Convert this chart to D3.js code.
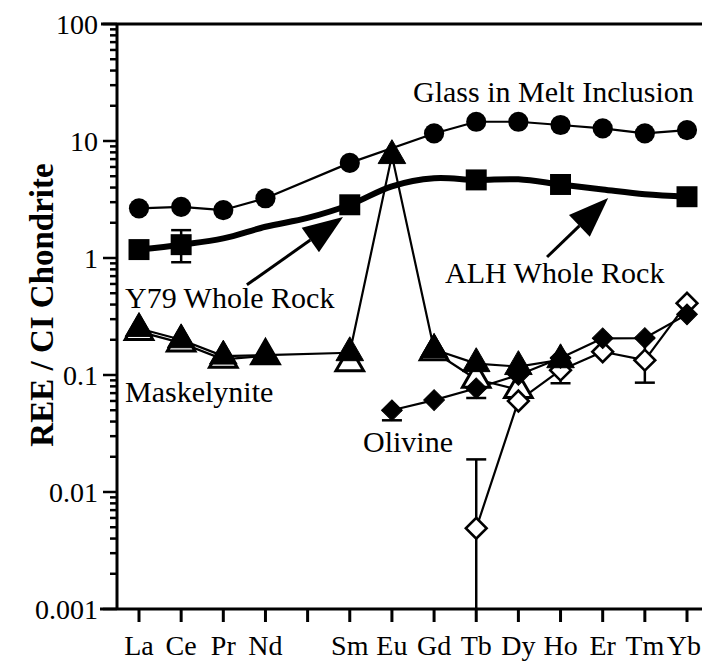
<!DOCTYPE html>
<html><head><meta charset="utf-8">
<script src="https://cdn.jsdelivr.net/npm/d3@7"></script>
<style>
html,body{margin:0;padding:0;background:#fff;}
svg{display:block;}
svg text{font-family:"Liberation Serif","Times New Roman",Times,serif;}
</style>
</head><body>
<svg id="chart" width="702" height="661"></svg>
<script>
// Rare earth elements in atomic order (Pm has a tick but no label)
const elements   = ["La","Ce","Pr","Nd","Pm","Sm","Eu","Gd","Tb","Dy","Ho","Er","Tm","Yb"];
const tickLabels = ["La","Ce","Pr","Nd","","Sm","Eu","Gd","Tb","Dy","Ho","Er","Tm","Yb"];
const yTickValues = [0.001, 0.01, 0.1, 1, 10, 100];
const yTickLabels = ["0.001", "0.01", "0.1", "1", "10", "100"];

// Glass in melt inclusion (filled circles)
const glassInclusion = [2.66, 2.74, 2.57, 3.24, null, 6.5, null, 11.6, 14.6, 14.6, 13.7, 12.8, 11.6, 12.4];

// Whole-rock pattern (thick smooth curve) and its measured points
const wholeRockCurve = [1.18, 1.3, 1.47, 1.85, 2.2, 2.85, 4.1, 4.8, 4.65, 4.7, 4.25, 3.85, 3.5, 3.34];
const y79WholeRock   = [1.18, 1.3, null, null, null, 2.85, null, null, null, null, null, null, null, null];
const y79ErrLow      = [null, 0.92, null, null, null, null, null, null, null, null, null, null, null, null];
const y79ErrHigh     = [null, 1.73, null, null, null, null, null, null, null, null, null, null, null, null];
const alhWholeRock   = [null, null, null, null, null, null, null, null, 4.65, null, 4.25, null, null, 3.34];

// Maskelynite (filled and open triangles)
const maskelyniteA = [0.25, 0.2, 0.145, 0.148, null, 0.155, 7.5, 0.165, 0.125, 0.118, 0.135, null, null, null];
const maskelyniteB = [0.235, 0.188, 0.136, 0.146, null, 0.127, null, 0.158, 0.092, 0.075, null, null, null, null];

// Olivine (filled and open diamonds) with error bars
const olivineA        = [null, null, null, null, null, null, 0.05, 0.061, 0.077, 0.1, 0.14, 0.206, 0.207, 0.33];
const olivineAErrLow  = [null, null, null, null, null, null, 0.041, null, 0.0636, null, null, null, null, null];
const olivineAErrHigh = [null, null, null, null, null, null, 0.05, null, 0.077, null, null, null, null, null];
const olivineB        = [null, null, null, null, null, null, null, null, 0.0049, 0.06, 0.11, 0.158, 0.134, 0.41];
const olivineBErrLow  = [null, null, null, null, null, null, null, null, 0.001, null, 0.085, null, 0.086, null];
const olivineBErrHigh = [null, null, null, null, null, null, null, null, 0.019, null, 0.14, null, 0.207, null];

const svg = d3.select("#chart");
const W = 702;

const x = d3.scaleLinear().domain([0, elements.length - 1]).range([139, 687]);
const y = d3.scaleLog().domain([0.001, 100]).range([609, 24]);
const axisLeftX = 117, axisBottomY = 609, topY = 24;

// ---- frame and axes ----
const axes = svg.append("g").attr("stroke", "#000").attr("fill", "none");
axes.append("line").attr("x1", 101).attr("x2", W).attr("y1", topY).attr("y2", topY).attr("stroke-width", 3);
axes.append("line").attr("x1", 100).attr("x2", W).attr("y1", axisBottomY).attr("y2", axisBottomY).attr("stroke-width", 3);
axes.append("line").attr("x1", axisLeftX).attr("x2", axisLeftX).attr("y1", topY).attr("y2", axisBottomY).attr("stroke-width", 3);

// y ticks: majors at decades, minors at 2..9
y.ticks().forEach(t => {
  const major = yTickValues.some(v => Math.abs(v - t) / v < 1e-6);
  axes.append("line")
    .attr("x1", axisLeftX - (major ? 14 : 7)).attr("x2", axisLeftX)
    .attr("y1", y(t)).attr("y2", y(t))
    .attr("stroke-width", 2.5);
});
svg.append("g").selectAll("text").data(yTickValues).join("text")
  .attr("x", 98).attr("y", d => y(d)).attr("dy", "0.35em")
  .attr("text-anchor", "end")
  .attr("font-size", 28)
  .text((d, i) => yTickLabels[i]);

// x ticks
elements.forEach((e, i) => {
  axes.append("line").attr("x1", x(i)).attr("x2", x(i))
    .attr("y1", axisBottomY).attr("y2", axisBottomY + 13).attr("stroke-width", 3);
});
const xLabels = svg.append("g").selectAll("text").data(tickLabels).join("text")
  .attr("x", (d, i) => x(i)).attr("y", 655)
  .attr("text-anchor", "middle")
  .attr("font-size", 28)
  .text(d => d);
// keep the last label inside the drawing
xLabels.each(function (d, i) {
  const w = this.getComputedTextLength();
  const cx = Math.min(x(i), W - w / 2 - 1);
  d3.select(this).attr("x", cx);
});

// y axis title
svg.append("text")
  .attr("transform", "translate(53,305) rotate(-90)")
  .attr("text-anchor", "middle")
  .attr("font-size", 33).attr("font-weight", "bold")
  .text("REE / CI Chondrite");

// ---- series lines ----
const idx = arr => arr.map((v, i) => ({ i, v })).filter(d => d.v != null);
const linePlain = d3.line().x(d => x(d.i)).y(d => y(d.v));
const lineGaps = d3.line().defined(d => d.v != null).x(d => x(d.i)).y(d => y(d.v));
const lineSmooth = d3.line().curve(d3.curveCatmullRom.alpha(0.5)).x(d => x(d.i)).y(d => y(d.v));

const lines = svg.append("g").attr("fill", "none").attr("stroke", "#000").attr("stroke-linejoin", "round");
lines.append("path").attr("d", linePlain(idx(glassInclusion))).attr("stroke-width", 2.2);
lines.append("path").attr("d", lineSmooth(idx(wholeRockCurve))).attr("stroke-width", 6);
lines.append("path").attr("d", linePlain(idx(maskelyniteA))).attr("stroke-width", 2.2);
lines.append("path").attr("d", lineGaps(maskelyniteB.map((v, i) => ({ i, v })))).attr("stroke-width", 2.2);
lines.append("path").attr("d", linePlain(idx(olivineA))).attr("stroke-width", 2.2);
lines.append("path").attr("d", linePlain(idx(olivineB))).attr("stroke-width", 2.2);

// ---- error bars ----
function errorBars(lo, hi) {
  const g = svg.append("g").attr("stroke", "#000").attr("stroke-width", 2.5);
  lo.forEach((l, i) => {
    const h = hi[i];
    if (l == null) return;
    g.append("line").attr("x1", x(i)).attr("x2", x(i)).attr("y1", y(l)).attr("y2", y(h));
    if (l > 0.001) g.append("line").attr("x1", x(i) - 10).attr("x2", x(i) + 10).attr("y1", y(l)).attr("y2", y(l));
    if (h !== l) g.append("line").attr("x1", x(i) - 10).attr("x2", x(i) + 10).attr("y1", y(h)).attr("y2", y(h));
  });
}
errorBars(y79ErrLow, y79ErrHigh);
errorBars(olivineAErrLow, olivineAErrHigh);
errorBars(olivineBErrLow, olivineBErrHigh);

// ---- markers ----
const tri = d3.symbol().type(d3.symbolTriangle).size(330);
const diamond = d3.symbol().type(d3.symbolSquare).size(215);
const square = d3.symbol().type(d3.symbolSquare).size(440);
const circle = d3.symbol().type(d3.symbolCircle).size(320);

function markers(arr, sym, fill, rotate, sw) {
  svg.append("g").selectAll("path").data(idx(arr)).join("path")
    .attr("d", sym)
    .attr("transform", d => `translate(${x(d.i)},${y(d.v)})` + (rotate ? " rotate(45)" : ""))
    .attr("fill", fill).attr("stroke", "#000").attr("stroke-width", sw);
}
markers(maskelyniteB, tri, "#fff", false, 3);
markers(olivineB, diamond, "#fff", true, 2.6);
markers(olivineA, diamond, "#000", true, 1);
markers(maskelyniteA, tri, "#000", false, 1);
markers(y79WholeRock, square, "#000", false, 0);
markers(alhWholeRock, square, "#000", false, 0);
markers(glassInclusion, circle, "#000", false, 0);

// ---- annotations ----
const ann = svg.append("g").attr("font-size", 30).attr("fill", "#000");
ann.append("text").attr("x", 413).attr("y", 102).text("Glass in Melt Inclusion");
ann.append("text").attr("x", 125).attr("y", 308).text("Y79 Whole Rock");
ann.append("text").attr("x", 445).attr("y", 283).text("ALH Whole Rock");
ann.append("text").attr("x", 125).attr("y", 402).text("Maskelynite");
ann.append("text").attr("x", 363).attr("y", 452).text("Olivine");

// arrows pointing at the whole-rock curve
function arrow(x0, y0, x1, y1) {
  const ang = Math.atan2(y1 - y0, x1 - x0);
  const len = 40, half = 15;
  const bx = x1 - len * Math.cos(ang), by = y1 - len * Math.sin(ang);
  const px = -Math.sin(ang), py = Math.cos(ang);
  svg.append("line").attr("x1", x0).attr("y1", y0).attr("x2", bx).attr("y2", by)
    .attr("stroke", "#000").attr("stroke-width", 3);
  svg.append("path")
    .attr("d", `M${x1},${y1}L${bx + half * px},${by + half * py}L${bx - half * px},${by - half * py}Z`)
    .attr("fill", "#000");
}
arrow(x(2.56), y(0.59), x(4.84), y(2.24));
arrow(x(9.68), y(1.02), x(11.13), y(3.25));
</script>
</body></html>
